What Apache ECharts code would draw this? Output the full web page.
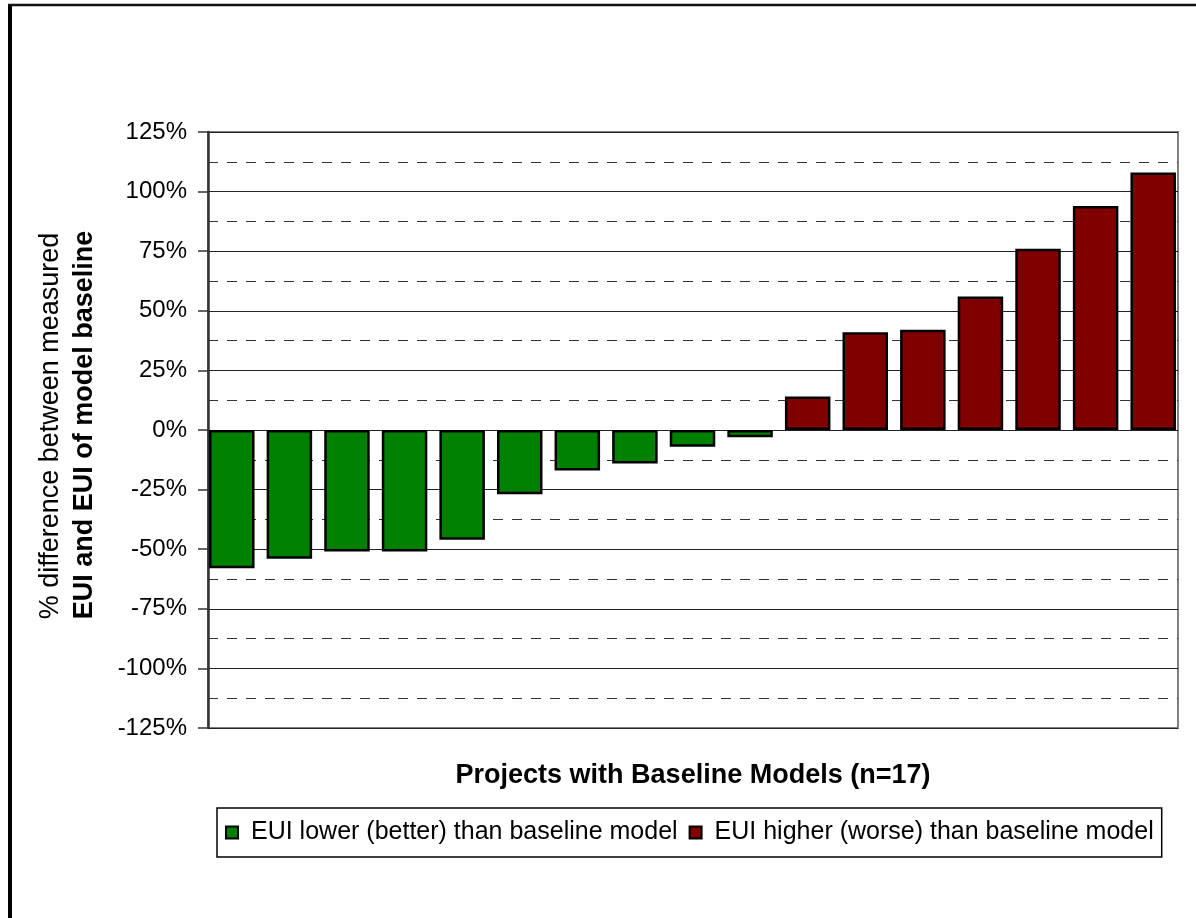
<!DOCTYPE html>
<html>
<head>
<meta charset="utf-8">
<script src="https://cdn.jsdelivr.net/npm/echarts@6/dist/echarts.min.js"></script>
<style>
  html, body { margin: 0; padding: 0; background: #fff; }
  #main { width: 1196px; height: 918px; }
</style>
</head>
<body>
<div id="main"></div>
<script>
  // 17 projects, sorted by % difference
  const projects = ['P1','P2','P3','P4','P5','P6','P7','P8','P9','P10','P11','P12','P13','P14','P15','P16','P17'];
  const pctDiff = [-58, -54, -51, -51, -46, -27, -17, -14, -7, -3, 14, 41, 42, 56, 76, 94, 108];

  const lowerName = 'EUI lower (better) than baseline model';
  const higherName = 'EUI higher (worse) than baseline model';
  const yTitle1 = '% difference between measured';
  const yTitle2 = 'EUI and EUI of model baseline';
  const xTitle = 'Projects with Baseline Models (n=17)';

  // split into the two coloured series
  const lowerData = pctDiff.map(v => v < 0 ? v : '-');
  const higherData = pctDiff.map(v => v >= 0 ? v : '-');

  const chart = echarts.init(document.getElementById('main'));
  const font = '"Liberation Sans", Arial, sans-serif';

  const option = {
    animation: false,
    backgroundColor: '#fff',
    grid: [
      // visible plot area with gridlines
      { left: 208, right: 18, top: 132, bottom: 190, show: true, borderColor: '#808080', borderWidth: 2 },
      // bars: first and last bar touch the plot edges, like the Excel original
      { left: 203, right: 14, top: 132, bottom: 190 }
    ],
    legend: {
      left: 217, top: 808,
      padding: [12, 8, 12, 8],
      borderColor: '#000', borderWidth: 1.5,
      itemWidth: 12, itemHeight: 12, itemGap: 11,
      icon: 'rect',
      textStyle: { fontFamily: font, fontSize: 25, color: '#000', padding: [0, 0, 0, 8] },
      data: [lowerName, higherName]
    },
    xAxis: [
      {
        type: 'category', gridIndex: 0, data: projects,
        axisLine: { show: false }, axisTick: { show: false }, axisLabel: { show: false }, splitLine: { show: false }
      },
      {
        type: 'category', gridIndex: 1, data: projects,
        axisLine: { show: false }, axisTick: { show: false }, axisLabel: { show: false }, splitLine: { show: false }
      }
    ],
    yAxis: [
      {
        type: 'value', gridIndex: 0,
        min: -125, max: 125, interval: 25,
        axisLine: { show: true, lineStyle: { color: '#333', width: 2.5 } },
        axisTick: { show: true, length: 10, lineStyle: { color: '#333', width: 1.5 } },
        axisLabel: {
          formatter: '{value}%', margin: 21,
          fontFamily: font, fontSize: 24, color: '#000'
        },
        splitLine: { show: true, lineStyle: { color: '#222', width: 1.2 } },
        minorTick: { show: false, splitNumber: 2 },
        minorSplitLine: { show: true, lineStyle: { color: '#333', width: 1.2, type: [10, 9] } }
      },
      {
        type: 'value', gridIndex: 1,
        min: -125, max: 125, interval: 25,
        axisLine: { show: false }, axisTick: { show: false }, axisLabel: { show: false }, splitLine: { show: false }
      }
    ],
    series: [
      {
        name: lowerName, type: 'bar', data: lowerData,
        xAxisIndex: 1, yAxisIndex: 1,
        barWidth: 45.5, barGap: '-100%',
        itemStyle: { color: '#008000', borderColor: '#000', borderWidth: 2.5 }
      },
      {
        name: higherName, type: 'bar', data: higherData,
        xAxisIndex: 1, yAxisIndex: 1,
        barWidth: 45.5,
        itemStyle: { color: '#800000', borderColor: '#000', borderWidth: 2.5 }
      }
    ],
    graphic: [
      // outer frame (left and top edges visible)
      { type: 'line', shape: { x1: 10, y1: 4, x2: 10, y2: 918 }, style: { stroke: '#000', lineWidth: 4 } },
      { type: 'line', shape: { x1: 8, y1: 5, x2: 1196, y2: 5 }, style: { stroke: '#111', lineWidth: 2.5 } },
      {
        type: 'text', x: 51, y: 426, rotation: Math.PI / 2,
        style: { text: yTitle1, fontFamily: font, fontSize: 27, fill: '#000', align: 'center', verticalAlign: 'middle' }
      },
      {
        type: 'text', x: 85, y: 425, rotation: Math.PI / 2,
        style: { text: yTitle2, fontFamily: font, fontSize: 27, fontWeight: 'bold', fill: '#000', align: 'center', verticalAlign: 'middle' }
      },
      {
        type: 'text', x: 693, y: 776,
        style: { text: xTitle, fontFamily: font, fontSize: 27, fontWeight: 'bold', fill: '#000', align: 'center', verticalAlign: 'middle' }
      }
    ]
  };

  chart.setOption(option);
</script>
</body>
</html>
